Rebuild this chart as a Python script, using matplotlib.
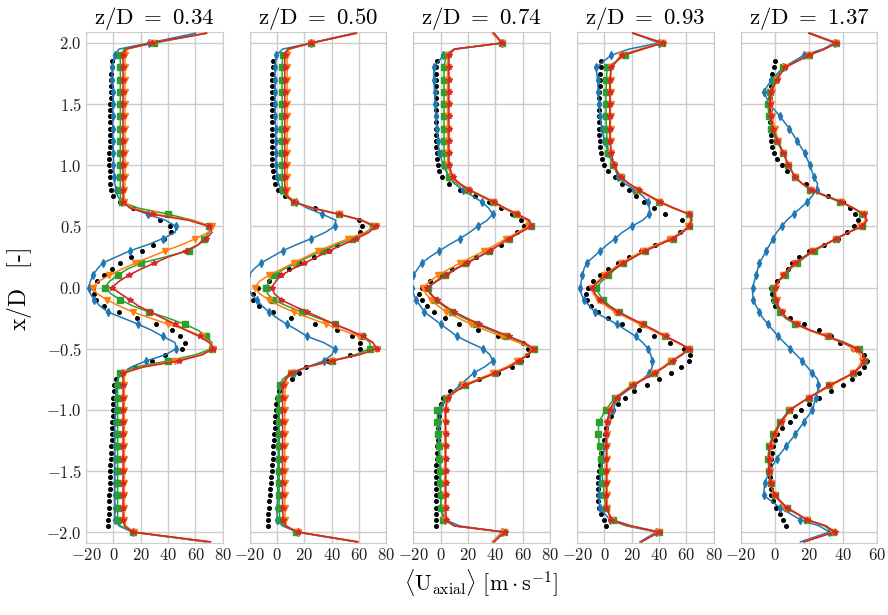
import matplotlib
matplotlib.use('Agg')
import matplotlib.pyplot as plt

plt.rcParams['font.family'] = 'serif'
plt.rcParams['font.serif'] = ['cmr10']
plt.rcParams['mathtext.fontset'] = 'cm'
plt.rcParams['axes.formatter.use_mathtext'] = True

# stations
titles = ['0.34', '0.50', '0.74', '0.93', '1.37']

# model profiles: sampled at y_model (finer in the jet region)
y_model = [-2.08, -2.0, -1.95, -1.9,
           -1.8, -1.7, -1.6, -1.5, -1.4, -1.3, -1.2, -1.1, -1.0,
           -0.9, -0.85, -0.8, -0.75, -0.7, -0.65, -0.6, -0.55, -0.5, -0.45,
           -0.4, -0.35, -0.3, -0.25, -0.2, -0.15, -0.1, -0.05, 0.0,
           0.05, 0.1, 0.15, 0.2, 0.25, 0.3, 0.35, 0.4, 0.45,
           0.5, 0.55, 0.6, 0.65, 0.7, 0.75, 0.8, 0.85, 0.9,
           1.0, 1.1, 1.2, 1.3, 1.4, 1.5, 1.6, 1.7, 1.8,
           1.9, 1.95, 2.0, 2.08]

# experiment: sampled at y_exp
y_exp = [-1.95, -1.9, -1.85, -1.8, -1.75, -1.7, -1.65, -1.6, -1.55, -1.5,
         -1.45, -1.4, -1.35, -1.3, -1.25, -1.2, -1.15, -1.1, -1.05, -1.0,
         -0.95, -0.9, -0.85, -0.8, -0.75, -0.7, -0.65, -0.6, -0.55, -0.5,
         -0.45, -0.4, -0.35, -0.3, -0.25, -0.2, -0.15, -0.1, -0.05, 0.0,
         0.05, 0.1, 0.15, 0.2, 0.25, 0.3, 0.35, 0.4, 0.45, 0.5,
         0.55, 0.6, 0.65, 0.7, 0.75, 0.8, 0.85, 0.9, 0.95, 1.0,
         1.05, 1.1, 1.15, 1.2, 1.25, 1.3, 1.35, 1.4, 1.45, 1.5,
         1.55, 1.6, 1.65, 1.7, 1.75, 1.8, 1.85]

# ---- z/D = 0.34
exp_034 = [-4, -3.8, -3.6, -3.4, -3.2, -3.0, -2.9, -2.7, -2.6, -2.4,
           -2.2, -2.0, -1.8, -1.6, -1.4, -1.2, -1.0, -0.8, -0.6, -0.4,
           -0.2, 0, 0.3, 0.7, 1.7, 6, 16, 28, 38, 50,
           52.5, 49, 43, 31, 17, 4, -7, -13, -14.5, -14.7,
           -12, -7, -1, 5, 13, 21, 29, 37, 42, 41,
           34, 25, 14, 5, 0, -1.5, -2.4, -2.7, -2.9, -3,
           -3, -3, -2.9, -2.8, -2.7, -2.6, -2.5, -2.4, -2.3, -2.2,
           -2.1, -2.0, -1.9, -1.8, -1.6, -1.4, -1.2]
blue_034 = [67, 14, 4, 1,
            1, 1, 1, 1, 1, 1, 1, 1, 1.5,
            1.5, 1.8, 2, 3, 6, 13, 24, 38, 46, 45,
            36, 28, 18, 7, -4, -10, -14, -17, -18,
            -17, -15, -12, -8, 2, 12, 25, 36, 45,
            46, 38, 25, 13, 6, 3, 2, 1, 0.5,
            0, 0, -0.5, -0.5, -0.5, -0.5, -0.5, -1, -1,
            1, 4, 26, 60]
green_034 = [69, 14, 5, 3,
             3, 3, 3, 3, 3, 3, 3, 3, 3,
             3, 3, 3, 3.5, 5, 16, 40, 60, 72, 72,
             68, 62, 52, 40, 26, 14, 5, -2, -6,
             -3, 3, 10, 20, 38, 55, 62, 66, 70,
             70, 58, 40, 18, 6, 5, 5, 5, 5,
             5, 5, 5, 5, 5, 5, 5, 5, 5,
             5, 8, 30, 68]
orange_034 = [70, 15, 9, 8,
              8, 8, 8, 8, 8, 8, 8, 8, 8,
              8, 8, 8, 8, 8, 20, 45, 64, 73, 71,
              65, 54, 40, 27, 14, 4, -5, -12, -15,
              -11, -3, 6, 16, 27, 38, 50, 60, 69,
              72, 58, 30, 14, 8, 8, 8, 8.5, 8.5,
              8.5, 8.5, 8.5, 8.5, 8.5, 8.5, 8.5, 8.5, 8.5,
              8.5, 10, 28, 68]
red_034 = [71, 14, 8, 7,
           7, 7, 7, 7, 7, 7, 7, 7, 7,
           7, 7, 7, 7, 7, 22, 48, 65, 73, 70,
           63, 53, 45, 36, 27, 18, 12, 5, -1,
           4, 11, 20, 30, 40, 53, 62, 68, 72,
           70, 55, 28, 12, 7, 7, 7, 7, 7,
           7, 7, 7, 7, 7, 7, 7, 7, 7,
           7, 9, 28, 68]

# ---- z/D = 0.50
exp_050 = [-7, -6.6, -6.3, -6, -5.6, -5.3, -5, -4.7, -4.3, -4,
           -3.6, -3.3, -3, -2.7, -2.4, -2.1, -1.8, -1.5, -1.2, -0.8,
           -0.5, 0, 1.5, 4.5, 11, 16, 21, 37, 53, 61,
           61, 55, 44, 28, 10, -3, -13, -17.5, -17.5, -14,
           -6, 2, 9, 17, 27, 37, 44, 55, 61, 62,
           60, 45, 28, 14, 6, 1, -1.5, -2.5, -3, -3.5,
           -3.7, -3.7, -3.7, -3.7, -3.7, -3.7, -3.7, -3.7, -3.7, -3.7,
           -3.7, -3.7, -3.7, -3.7, -3.5, -3.3, -3]
blue_050 = [58, 15, 4, 0,
            0, 0.5, 0.5, 0.5, 1, 1, 1, 1, 1,
            1.5, 2, 3, 6, 12, 22, 34, 40, 42, 34,
            22, 15, 7, 0, -6, -11, -15, -19, -22,
            -22, -21, -17, -12, -4, 4, 14, 25, 35,
            42, 43, 33, 22, 14, 7, 3, 1, 0,
            -0.5, -1, -1, -1, -1.5, -1.5, -1.5, -1.5, -1.5,
            -0.5, 4, 25, 56]
green_050 = [58, 14, 5, 2,
             1.5, 1.5, 1.5, 1.5, 1.5, 1.5, 1.5, 1.5, 1.5,
             1.5, 1.8, 2, 4, 10, 22, 40, 57, 68, 68,
             62, 53, 42, 30, 18, 7, -3, -7, -8,
             -6, -2, 5, 14, 23, 33, 44, 55, 65,
             70, 62, 45, 26, 12, 6, 4, 3.7, 3.7,
             3.7, 3.7, 3.7, 3.7, 3.7, 3.7, 3.7, 3.7, 3.7,
             4, 8, 25, 58]
orange_050 = [59, 15, 7, 6,
              5.6, 5.6, 5.6, 5.6, 5.6, 5.6, 5.6, 5.6, 5.6,
              5.6, 5.8, 6, 7, 10, 22, 40, 60, 73, 70,
              60, 48, 36, 24, 12, 2, -6, -13, -16,
              -13, -6, 3, 12, 21, 30, 41, 52, 64,
              72, 62, 45, 25, 12, 8, 7.5, 7.3, 7.3,
              7.3, 7.3, 7.3, 7.3, 7.3, 7.3, 7.3, 7.3, 7.3,
              7.3, 9, 25, 58]
red_050 = [59, 15, 6, 4.5,
           4, 4, 4, 4, 4, 4, 4, 4, 4,
           4, 4.2, 4.5, 6, 10, 22, 40, 60, 73, 70,
           63, 53, 42, 32, 22, 12, 3, -2, -4,
           -1, 3, 11, 20, 29, 38, 48, 58, 67,
           72, 62, 45, 26, 12, 7, 6, 5.6, 5.6,
           5.6, 5.6, 5.6, 5.6, 5.6, 5.6, 5.6, 5.6, 5.6,
           5.6, 8, 25, 58]

# ---- z/D = 0.74
exp_074 = [-3.5, -3.6, -3.7, -3.7, -3.7, -3.7, -3.6, -3.5, -3.4, -3.3,
           -3.1, -2.9, -2.7, -2.5, -2.3, -2.1, -1.9, -1.6, -1.2, -0.8,
           0, 2, 7, 15, 28, 42, 52, 59, 63, 64,
           60, 42, 27, 13, 3, -5, -10, -14, -16, -14,
           -8, -1, 8, 17, 26, 36, 44, 50, 56, 61,
           59, 52, 44, 35, 25, 14, 6, 1.2, -1, -2,
           -2.5, -3, -3.2, -3.4, -3.6, -3.7, -3.7, -3.7, -3.7, -3.7,
           -3.7, -3.7, -3.6, -3.5, -3.4, -3.2, -3]
blue_074 = [38, 45, 14, 3,
            0, 0, -0.5, -0.5, -0.5, -1, -1, -1, -0.5,
            5, 9, 14, 19, 24, 32, 38, 36, 31, 21,
            12, 6, 0, -6, -12, -15, -18, -20, -21,
            -21, -20, -17, -14, -8, -1, 6, 14, 21,
            27, 34, 38, 35, 30, 23, 16, 10, 6,
            2, -1, -2, -3, -3.5, -4, -4.5, -5, -5,
            2, 10, 45, 38]
green_074 = [38, 46, 10, 2,
             0, 0, -0.5, -0.5, -1, -1.5, -2, -2.4, -2.4,
             4, 10, 18, 29, 40, 50, 57, 64, 68, 60,
             48, 37, 26, 17, 8, 2, -4, -7, -9,
             -4, 3, 10, 18, 27, 35, 43, 50, 58,
             66, 64, 55, 46, 38, 29, 20, 12, 6,
             3, 2.4, 2.4, 2.4, 2.4, 2.4, 2.4, 2.4, 2.4,
             4, 10, 45, 38]
orange_074 = [38, 46, 10, 3,
              3, 3, 3, 3, 3, 3, 3, 3, 3,
              5, 10, 16, 27, 38, 48, 56, 63, 67, 57,
              45, 33, 22, 13, 4, -2, -7, -11, -13,
              -8, -2, 6, 14, 23, 32, 40, 48, 56,
              64, 63, 55, 46, 38, 29, 20, 13, 8,
              5, 5, 5, 5, 5, 5, 5, 5, 5,
              5, 10, 45, 38]
red_074 = [39, 47, 10, 4,
           3.7, 3.7, 3.7, 3.7, 3.7, 3.7, 3.7, 3.7, 3.7,
           5, 11, 18, 29, 40, 50, 57, 64, 68, 61,
           50, 39, 28, 19, 10, 3, -3, -8, -10,
           -3, 4, 11, 19, 28, 36, 43, 50, 58,
           66, 65, 56, 47, 39, 30, 21, 14, 9,
           6, 6, 6, 6, 6, 6, 6, 6, 6,
           6, 10, 45, 39]

# ---- z/D = 0.93
exp_093 = [1, -0.5, -2.5, -4, -5, -5, -5, -4.7, -4.3, -3.7,
           -3.2, -2.7, -2.1, -1.5, -0.5, 0.5, 1.5, 3, 4.5, 6,
           10, 15, 22, 31, 40, 49, 56, 62, 63, 58,
           48, 36, 25, 13, 3, -5, -10, -12.5, -13.4, -12,
           -8, -3, 3, 10, 18, 27, 37, 47, 55, 61,
           57, 44, 36, 29, 23, 18, 13, 8, 3, 0,
           -1.5, -2.4, -3, -3.4, -3.7, -3.7, -3.7, -3.7, -3.7, -3.7,
           -3.7, -3.7, -3.5, -3.2, -3, -2.7, -2.4]
blue_093 = [26, 38, 16, 4,
            -3.5, -4, -3.5, -2.5, -1, 0, 2, 3, 6,
            10, 16, 22, 28, 33, 35, 35, 34, 32, 28,
            23, 16, 9, 1, -7, -11, -15, -17, -17.5,
            -17, -16, -15, -13, -8, -3, 2, 8, 13,
            20, 28, 33, 33, 32, 28, 22, 15, 10,
            7, 3, 0, -2, -3, -4, -4.5, -5, -6,
            5, 18, 40, 21]
green_093 = [27, 40, 20, 6,
             1, 0, -1, -2, -2.5, -3.5, -4.5, -4, 1,
             8, 14, 20, 28, 36, 43, 49, 56, 62, 54,
             44, 36, 28, 19, 11, 4, -1, -4, -6,
             -2, 3, 8, 14, 22, 30, 40, 50, 57,
             62, 64, 62, 50, 40, 32, 24, 18, 12,
             6, 3, 2, 1.5, 1.2, 1.2, 1.2, 1.5, 2,
             15, 28, 42, 21]
orange_093 = [27, 39, 18, 5,
              2, 2, 2, 2, 2, 2, 2, 2.5, 4,
              9, 14, 20, 28, 36, 43, 49, 56, 62, 53,
              44, 35, 26, 17, 8, 1, -5, -8, -9,
              -5, 0, 6, 12, 20, 28, 38, 48, 56,
              61, 63, 62, 50, 40, 32, 24, 18, 12,
              7, 5, 4.5, 4.5, 4.5, 4.5, 4.5, 4.5, 5,
              12, 26, 42, 21]
red_093 = [27, 40, 19, 5,
           1.5, 1.5, 1.5, 1.5, 1.5, 1.5, 1.5, 2, 4,
           9, 15, 21, 29, 37, 44, 50, 57, 62, 54,
           45, 37, 28, 19, 10, 3, -3, -7, -9,
           -4, 1, 7, 14, 22, 30, 40, 50, 57,
           62, 64, 62, 51, 41, 33, 25, 18, 12,
           7, 5, 4, 4, 4, 4, 4, 4, 5,
           13, 28, 43, 21]

# ---- z/D = 1.37
exp_137 = [6.5, 5, 3, 0.5, -1, -2, -2.5, -3, -3, -3,
           -2.7, -2.3, -1.8, -1, 0, 1.5, 4, 9, 12, 15.5,
           20, 26, 33, 40, 45, 49, 52, 54, 52, 46,
           38, 33, 26, 17, 9, 3, 0, -1, -1.5, -2,
           1, 4.5, 8, 10, 14, 20, 29, 37, 42, 46.6,
           48.5, 47, 44, 40, 31, 22, 18, 12, 7, 4,
           1, -0.5, -1.5, -2, -2.5, -3, -3, -3, -3, -3,
           -3, -3, -2.5, -2, -1.5, -0.5, 0]
blue_137 = [15, 32, 26, 15,
            3, -6.5, -6, -3, 1, 6.5, 12, 17, 22,
            24, 25, 25.5, 25, 22, 19, 16, 12.5, 9, 5.5,
            2, -1, -4, -7, -9, -11, -12.5, -13, -13,
            -12, -11, -10, -9, -7, -5, -3, -1, 1,
            4, 7, 11, 15, 19, 22, 24.5, 25, 23,
            20.5, 17.5, 13, 8.5, 3, -3, -6.5, -2, 5,
            17, 28, 35, 20]
green_137 = [17, 34, 29, 19,
             7, 0, -2.5, -3.5, -4, -3.5, -1, 3, 8.5,
             20, 26, 32, 39, 46, 50, 52, 52, 49, 41,
             31, 20, 12, 6, 3, 1, 0, -0.5, -1,
             2, 6, 9, 13, 18, 23, 30, 36, 43,
             51, 54, 51, 46, 38, 29, 20.5, 16, 12,
             8, 5, 1, -2, -3.5, -4, -3, 0, 5,
             20, 29, 36, 21]
orange_137 = [17, 34, 30, 19,
              6, -0.5, -2.5, -3, -3, -2.5, 0, 4, 9,
              20, 27, 33, 40, 46, 49, 51, 50, 46, 39,
              30, 20, 13, 7, 4, 2, 1, 0.5, 0.5,
              2, 5, 8, 12, 17, 22, 29, 36, 43,
              50, 53, 52, 46, 39, 30, 21, 16, 12,
              8, 5, 2, 0, -1.5, -2, -1.5, 1, 6,
              20, 29, 36, 20]
red_137 = [17, 35, 30, 19,
           7, 0, -2.5, -3.5, -3.5, -3, -0.5, 3.5, 9,
           20, 26, 32, 39, 46, 50, 52, 52, 48, 40,
           31, 21, 13, 7, 4, 2, 0.5, 0, 0,
           2, 5, 8, 12, 17, 22, 29, 36, 43,
           51, 54, 52, 46, 39, 30, 21, 16, 12,
           8, 5, 1.5, -1, -2.5, -3, -2, 1, 6,
           20, 29, 36, 20]

exp_all = [exp_034, exp_050, exp_074, exp_093, exp_137]
blue_all = [blue_034, blue_050, blue_074, blue_093, blue_137]
green_all = [green_034, green_050, green_074, green_093, green_137]
orange_all = [orange_034, orange_050, orange_074, orange_093, orange_137]
red_all = [red_034, red_050, red_074, red_093, red_137]
xmax = [80, 80, 80, 80, 60]

# markers only on the coarse (0.1) stations
marks = [k for k, y in enumerate(y_model) if abs(y * 10 - round(y * 10)) < 1e-6]

fig, axes = plt.subplots(1, 5, figsize=(8.88, 6.15), dpi=100, sharey=True)
fig.subplots_adjust(left=0.097, right=0.988, bottom=0.117, top=0.948, wspace=0.197)

for i, ax in enumerate(axes):
    ax.set_axisbelow(True)
    ax.plot(exp_all[i], y_exp, 'o', color='k', ms=2.6, ls='none', zorder=2)
    ax.plot(blue_all[i], y_model, color='#1f77b4', marker='d', ms=4, lw=1.1,
            markevery=marks, zorder=3)
    ax.plot(green_all[i], y_model, color='#2ca02c', marker='s', ms=3.8, lw=1.1,
            markevery=marks, zorder=4)
    ax.plot(orange_all[i], y_model, color='#ff7f0e', marker='v', ms=4.5, lw=1.1,
            markevery=marks, zorder=5)
    ax.plot(red_all[i], y_model, color='#d62728', marker='*', ms=4, lw=1.2,
            markevery=marks, zorder=6)
    ax.set_xlim(-20, xmax[i])
    ax.set_xticks(range(-20, xmax[i] + 1, 20))
    ax.set_ylim(-2.09, 2.09)
    ax.set_yticks([-2.0, -1.5, -1.0, -0.5, 0.0, 0.5, 1.0, 1.5, 2.0])
    ax.grid(True, color='#cccccc', lw=1.0)
    for s in ax.spines.values():
        s.set_color('#cccccc')
    ax.tick_params(length=0, labelsize=12, pad=3, colors='#222222')
    ax.set_title(r'$\mathrm{z/D\ =\ ' + titles[i] + '}$', fontsize=16.5, pad=4)

fig.text(0.542, 0.052, r'$\langle\mathrm{U_{axial}}\rangle\ [\mathrm{m\cdot s^{-1}}]$',
         ha='center', va='center', fontsize=16)
fig.text(0.022, 0.53, r'$\mathrm{x/D}\ \ \ [\text{-}]$', rotation=90,
         ha='center', va='center', fontsize=17)

fig.savefig('out.png', dpi=100)
